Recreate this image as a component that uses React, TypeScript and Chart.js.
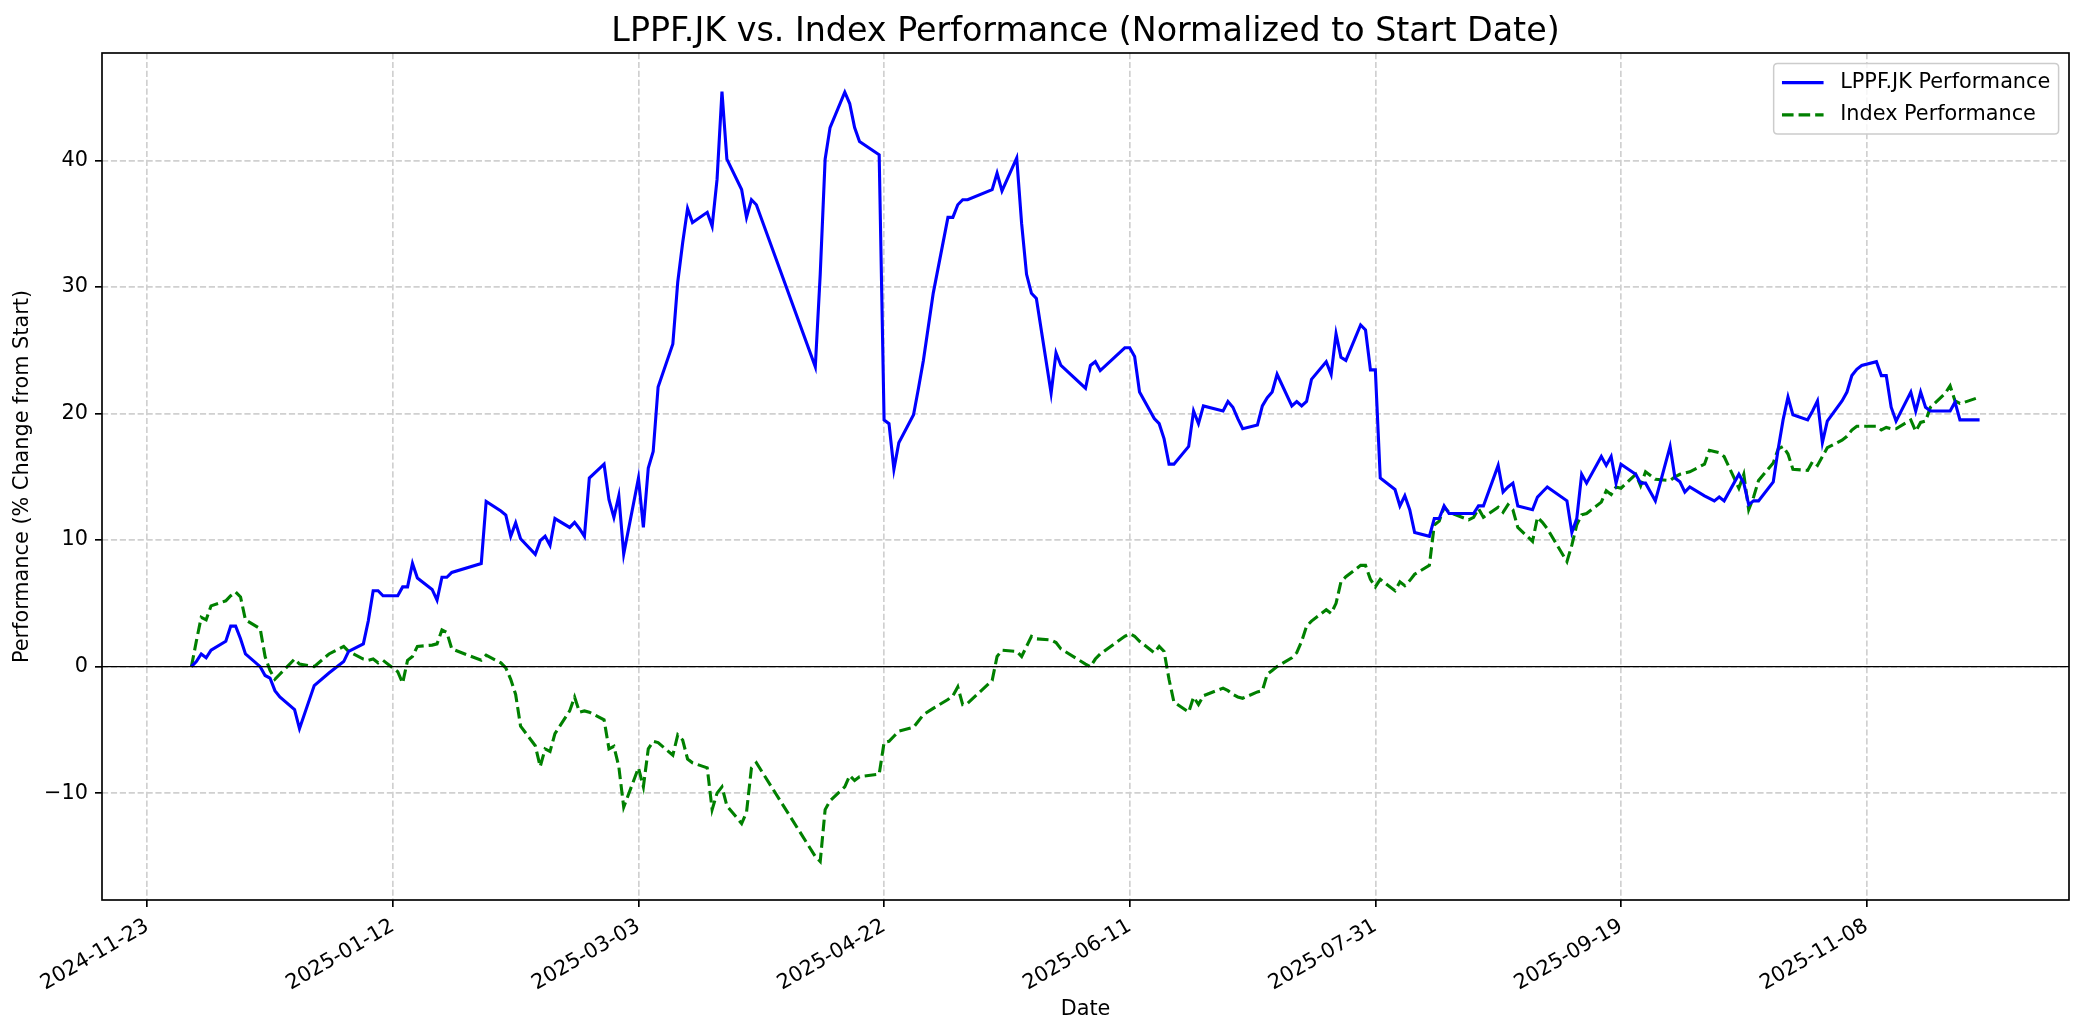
import React, { useEffect, useRef } from "react";
import { Chart, registerables } from "chart.js";

Chart.register(...registerables);

// ---------------- data ----------------
const tradingDates: string[] = [
  "2024-12-02","2024-12-03","2024-12-04","2024-12-05","2024-12-06","2024-12-09","2024-12-10","2024-12-11","2024-12-12","2024-12-13","2024-12-16","2024-12-17","2024-12-18","2024-12-19","2024-12-20","2024-12-23","2024-12-24","2024-12-27","2024-12-30",
  "2025-01-02","2025-01-03","2025-01-06","2025-01-07","2025-01-08","2025-01-09","2025-01-10","2025-01-13","2025-01-14","2025-01-15","2025-01-16","2025-01-17","2025-01-20","2025-01-21","2025-01-22","2025-01-23","2025-01-24","2025-01-30","2025-01-31",
  "2025-02-03","2025-02-04","2025-02-05","2025-02-06","2025-02-07","2025-02-10","2025-02-11","2025-02-12","2025-02-13","2025-02-14","2025-02-17","2025-02-18","2025-02-19","2025-02-20","2025-02-21","2025-02-24","2025-02-25","2025-02-26","2025-02-27","2025-02-28",
  "2025-03-03","2025-03-04","2025-03-05","2025-03-06","2025-03-07","2025-03-10","2025-03-11","2025-03-12","2025-03-13","2025-03-14","2025-03-17","2025-03-18","2025-03-19","2025-03-20","2025-03-21","2025-03-24","2025-03-25","2025-03-26","2025-03-27",
  "2025-04-08","2025-04-09","2025-04-10","2025-04-11","2025-04-14","2025-04-15","2025-04-16","2025-04-17","2025-04-21","2025-04-22","2025-04-23","2025-04-24","2025-04-25","2025-04-28","2025-04-29","2025-04-30",
  "2025-05-02","2025-05-05","2025-05-06","2025-05-07","2025-05-08","2025-05-09","2025-05-14","2025-05-15","2025-05-16","2025-05-19","2025-05-20","2025-05-21","2025-05-22","2025-05-23","2025-05-26","2025-05-27","2025-05-28",
  "2025-06-02","2025-06-03","2025-06-04","2025-06-05","2025-06-10","2025-06-11","2025-06-12","2025-06-13","2025-06-16","2025-06-17","2025-06-18","2025-06-19","2025-06-20","2025-06-23","2025-06-24","2025-06-25","2025-06-26","2025-06-30",
  "2025-07-01","2025-07-02","2025-07-03","2025-07-04","2025-07-07","2025-07-08","2025-07-09","2025-07-10","2025-07-11","2025-07-14","2025-07-15","2025-07-16","2025-07-17","2025-07-18","2025-07-21","2025-07-22","2025-07-23","2025-07-24","2025-07-25","2025-07-28","2025-07-29","2025-07-30","2025-07-31",
  "2025-08-01","2025-08-04","2025-08-05","2025-08-06","2025-08-07","2025-08-08","2025-08-11","2025-08-12","2025-08-13","2025-08-14","2025-08-15","2025-08-19","2025-08-20","2025-08-21","2025-08-22","2025-08-25","2025-08-26","2025-08-27","2025-08-28","2025-08-29",
  "2025-09-01","2025-09-02","2025-09-03","2025-09-04","2025-09-08","2025-09-09","2025-09-10","2025-09-11","2025-09-12","2025-09-15","2025-09-16","2025-09-17","2025-09-18","2025-09-19","2025-09-22","2025-09-23","2025-09-24","2025-09-25","2025-09-26","2025-09-29","2025-09-30",
  "2025-10-01","2025-10-02","2025-10-03","2025-10-06","2025-10-07","2025-10-08","2025-10-09","2025-10-10","2025-10-13","2025-10-14","2025-10-15","2025-10-16","2025-10-17","2025-10-20","2025-10-21","2025-10-22","2025-10-23","2025-10-24","2025-10-27","2025-10-28","2025-10-29","2025-10-30","2025-10-31",
  "2025-11-03","2025-11-04","2025-11-05","2025-11-06","2025-11-07","2025-11-10","2025-11-11","2025-11-12","2025-11-13","2025-11-14","2025-11-17","2025-11-18","2025-11-19","2025-11-20","2025-11-21","2025-11-24","2025-11-25","2025-11-26","2025-11-27","2025-11-28",
  "2025-12-01",
];

const lppfPerf: number[] = [
  0.0, 0.4, 1.0, 0.7, 1.3, 2.0, 3.2, 3.2, 2.2, 1.0, 0.0, -0.7, -0.9, -1.9, -2.4, -3.4, -4.9, -1.5, -0.5,
  0.4, 1.2, 1.8, 3.6, 6.0, 6.0, 5.6, 5.6, 6.3, 6.3, 8.15, 7.0, 6.1, 5.25, 7.06, 7.06, 7.44, 8.15, 13.05,
  12.3, 11.97, 10.3, 11.36, 10.1, 8.87, 9.95, 10.3, 9.58, 11.7, 11.0, 11.4, 10.9, 10.3, 14.9, 16.0, 13.2, 11.8, 13.5, 8.9,
  14.9, 11.0, 15.7, 17.0, 22.1, 25.5, 30.4, 33.5, 36.2, 35.1, 35.9, 34.8, 38.5, 45.45, 40.1, 37.7, 35.5, 36.9, 36.5,
  23.7, 31.0, 40.1, 42.6, 45.4, 44.5, 42.6, 41.5, 40.45, 19.5, 19.2, 15.6, 17.7, 19.9, 22.0, 24.2,
  29.5, 35.5, 35.5, 36.5, 36.9, 36.9, 37.7, 39.0, 37.6, 40.2, 35.0, 31.0, 29.5, 29.1, 21.6, 24.8, 23.8,
  22.0, 23.8, 24.1, 23.4, 25.2, 25.2, 24.5, 21.7, 19.6, 19.2, 18.0, 16.0, 16.0, 17.4, 20.2, 19.2, 20.6, 20.2,
  20.95, 20.5, 19.6, 18.8, 19.1, 20.6, 21.25, 21.7, 23.1, 20.6, 20.95, 20.6, 20.95, 22.7, 24.1, 23.1, 26.3, 24.45, 24.2, 27.0, 26.6, 23.45, 23.45,
  14.9, 14.0, 12.7, 13.5, 12.4, 10.6, 10.3, 11.7, 11.7, 12.7, 12.1, 12.1, 12.1, 12.7, 12.7, 15.9, 13.8, 14.2, 14.5, 12.7,
  12.4, 13.4, 13.8, 14.2, 13.1, 10.6, 11.7, 15.2, 14.5, 16.6, 15.9, 16.6, 14.5, 16.0, 15.2, 14.5, 14.5, 13.8, 13.1, 17.4, 14.9,
  14.6, 13.8, 14.2, 13.5, 13.3, 13.1, 13.4, 13.1, 15.2, 14.5, 12.8, 13.1, 13.1, 14.6, 17.2, 19.5, 21.3, 19.9, 19.5, 20.2, 21.0, 17.7, 19.4,
  21.0, 21.7, 23.0, 23.5, 23.8, 24.1, 23.0, 23.0, 20.5, 19.4, 21.7, 20.2, 21.7, 20.5, 20.2, 20.2, 20.2, 20.9, 19.5, 19.5,
  19.5,
];

const indexPerf: number[] = [
  0.0, 2.0, 3.9, 3.7, 4.8, 5.2, 5.6, 5.9, 5.5, 3.7, 3.0, 0.8, -0.3, -1.0, -0.6, 0.6, 0.2, 0.0, 1.0,
  1.6, 1.2, 0.6, 0.5, 0.6, 0.3, 0.5, -0.4, -1.3, 0.5, 0.8, 1.6, 1.7, 1.8, 2.9, 2.7, 1.4, 0.5, 0.9,
  0.3, -0.1, -1.0, -2.2, -4.7, -6.25, -7.9, -6.5, -6.7, -5.3, -3.5, -2.4, -3.6, -3.5, -3.6, -4.2, -6.5, -6.3, -7.9, -11.1,
  -8.0, -9.5, -6.5, -5.9, -6.0, -7.0, -5.4, -5.8, -7.3, -7.6, -8.0, -11.3, -10.0, -9.5, -11.0, -12.4, -11.5, -8.0, -7.6,
  -15.0, -15.4, -11.3, -10.6, -9.5, -8.6, -9.0, -8.7, -8.5, -6.0, -5.9, -5.5, -5.1, -4.8, -4.3, -3.8,
  -3.3, -2.6, -2.3, -1.6, -3.0, -2.9, -1.1, 0.8, 1.3, 1.2, 0.8, 1.6, 2.4, 2.2, 2.1, 1.9, 1.4,
  0.2, 0.0, 0.6, 1.0, 2.4, 2.6, 2.4, 2.0, 1.1, 1.6, 1.2, -1.0, -2.8, -3.6, -2.4, -3.0, -2.3, -1.7,
  -1.9, -2.2, -2.4, -2.5, -2.0, -1.9, -0.6, -0.3, 0.0, 0.7, 1.1, 2.0, 3.2, 3.6, 4.5, 4.2, 5.0, 6.7, 7.1, 8.0, 8.0, 6.9, 6.3,
  6.9, 6.0, 6.7, 6.4, 6.8, 7.3, 8.0, 11.2, 11.5, 12.6, 12.2, 11.6, 11.8, 12.5, 11.8, 12.6, 12.2, 12.8, 12.4, 11.0,
  9.9, 11.8, 11.4, 10.9, 8.3, 9.6, 11.2, 12.0, 12.1, 13.0, 13.9, 13.6, 14.2, 14.1, 15.2, 14.3, 15.4, 15.1, 14.8, 14.7, 15.0,
  15.2, 15.3, 15.4, 16.0, 17.1, 17.0, 16.9, 16.6, 14.1, 15.2, 12.4, 13.4, 14.7, 16.1, 17.2, 17.4, 16.8, 15.6, 15.5, 16.2, 15.9, 16.6, 17.3,
  17.9, 18.2, 18.7, 19.0, 19.0, 19.0, 18.7, 18.9, 18.8, 18.8, 19.5, 18.6, 19.3, 19.4, 20.5, 21.6, 22.2, 21.0, 20.8, 20.9,
  21.3,
];

const seriesLabels = ["LPPF.JK Performance", "Index Performance"];
const xTickDates = ["2024-11-23", "2025-01-12", "2025-03-03", "2025-04-22", "2025-06-11", "2025-07-31", "2025-09-19", "2025-11-08"];
const yTickValues = [-10, 0, 10, 20, 30, 40];
const titleText = "LPPF.JK vs. Index Performance (Normalized to Start Date)";
const xAxisLabel = "Date";
const yAxisLabel = "Performance (% Change from Start)";

// ---------------- layout / style ----------------
const W = 2084;
const H = 1035;
const PLOT = { left: 102, right: 2069, top: 53, bottom: 900 };
const FONT = "'DejaVu Sans', sans-serif";
const TICK_PX = 20.8;
const LABEL_PX = 20.8;
const TITLE_PX = 33.3;
const LEGEND_PX = 20.8;
const GRID = "#d0d0d0";
const LINE_W = 3.1;

const DAY = 86400000;
const toDay = (s: string) => Date.parse(s + "T00:00:00Z") / DAY;
const fromDay = (d: number) => new Date(Math.round(d) * DAY).toISOString().slice(0, 10);
const fmtY = (v: number) => (v < 0 ? "\u2212" + Math.abs(v) : String(v));

const decorPlugin = {
  id: "decor",
  afterDatasetsDraw(chart: any) {
    const { ctx, chartArea: a, scales } = chart;
    const y0 = scales.y.getPixelForValue(0);
    ctx.save();
    ctx.strokeStyle = "#000";
    ctx.lineWidth = 1.2;
    ctx.beginPath();
    ctx.moveTo(a.left, y0);
    ctx.lineTo(a.right, y0);
    ctx.stroke();
    ctx.restore();
  },
  afterDraw(chart: any) {
    const { ctx, chartArea: a } = chart;
    ctx.save();
    ctx.strokeStyle = "#000";
    ctx.lineWidth = 1.67;
    ctx.strokeRect(a.left, a.top, a.right - a.left, a.bottom - a.top);

    ctx.fillStyle = "#000";
    ctx.font = `${TITLE_PX}px ${FONT}`;
    ctx.textAlign = "center";
    ctx.textBaseline = "alphabetic";
    ctx.fillText(titleText, (a.left + a.right) / 2, a.top - 12.5);

    ctx.font = `${LABEL_PX}px ${FONT}`;
    ctx.textBaseline = "middle";
    ctx.fillText(xAxisLabel, (a.left + a.right) / 2, 1010);
    ctx.save();
    ctx.translate(23, (a.top + a.bottom) / 2);
    ctx.rotate(-Math.PI / 2);
    ctx.fillText(yAxisLabel, 0, 0);
    ctx.restore();

    const fs = LEGEND_PX;
    ctx.font = `${fs}px ${FONT}`;
    const ds = chart.data.datasets;
    const textW = Math.max(...ds.map((d: any) => ctx.measureText(d.label).width));
    const pad = 0.4 * fs;
    const handleLen = 2.0 * fs;
    const handleGap = 0.8 * fs;
    const rowH = 1.05 * fs;
    const rowGap = 0.5 * fs;
    const boxW = pad * 2 + handleLen + handleGap + textW;
    const boxH = pad * 2 + rowH * ds.length + rowGap * (ds.length - 1);
    const bx = a.right - 0.5 * fs - boxW;
    const by = a.top + 0.5 * fs;
    const r = 4;
    ctx.beginPath();
    ctx.moveTo(bx + r, by);
    ctx.lineTo(bx + boxW - r, by);
    ctx.quadraticCurveTo(bx + boxW, by, bx + boxW, by + r);
    ctx.lineTo(bx + boxW, by + boxH - r);
    ctx.quadraticCurveTo(bx + boxW, by + boxH, bx + boxW - r, by + boxH);
    ctx.lineTo(bx + r, by + boxH);
    ctx.quadraticCurveTo(bx, by + boxH, bx, by + boxH - r);
    ctx.lineTo(bx, by + r);
    ctx.quadraticCurveTo(bx, by, bx + r, by);
    ctx.closePath();
    ctx.fillStyle = "rgba(255,255,255,0.8)";
    ctx.fill();
    ctx.strokeStyle = "#cccccc";
    ctx.lineWidth = 1.5;
    ctx.stroke();

    ds.forEach((d: any, i: number) => {
      const cy = by + pad + i * (rowH + rowGap) + rowH / 2;
      ctx.strokeStyle = d.borderColor;
      ctx.lineWidth = d.borderWidth;
      ctx.setLineDash(d.borderDash || []);
      ctx.beginPath();
      ctx.moveTo(bx + pad, cy);
      ctx.lineTo(bx + pad + handleLen, cy);
      ctx.stroke();
      ctx.setLineDash([]);
      ctx.fillStyle = "#000";
      ctx.textAlign = "left";
      ctx.textBaseline = "middle";
      ctx.fillText(d.label, bx + pad + handleLen + handleGap, cy);
    });
    ctx.restore();
  },
};

export default function App() {
  const ref = useRef<HTMLCanvasElement>(null);

  useEffect(() => {
    const canvas = ref.current;
    if (!canvas) return;
    const xs = tradingDates.map(toDay);
    const xMinD = Math.min(...xs);
    const xMaxD = Math.max(...xs);
    const xPad = (xMaxD - xMinD) * 0.05;
    const allY = [...lppfPerf, ...indexPerf];
    const yMinD = Math.min(...allY);
    const yMaxD = Math.max(...allY);
    const yPad = (yMaxD - yMinD) * 0.05;

    const chart = new Chart(canvas, {
      type: "line",
      data: {
        datasets: [
          {
            label: seriesLabels[0],
            data: xs.map((x, i) => ({ x, y: lppfPerf[i] })),
            borderColor: "#0000ff",
            borderWidth: LINE_W,
            pointRadius: 0,
            fill: false,
            tension: 0,
          },
          {
            label: seriesLabels[1],
            data: xs.map((x, i) => ({ x, y: indexPerf[i] })),
            borderColor: "#008000",
            borderWidth: LINE_W,
            borderDash: [11.6, 5],
            pointRadius: 0,
            fill: false,
            tension: 0,
          },
        ],
      },
      options: {
        responsive: false,
        animation: false,
        devicePixelRatio: 1,
        layout: { padding: { left: 0, right: W - PLOT.right, top: PLOT.top, bottom: 0 } },
        plugins: {
          legend: { display: false },
          title: { display: false },
          tooltip: { enabled: false },
        },
        scales: {
          x: {
            type: "linear",
            min: xMinD - xPad,
            max: xMaxD + xPad,
            afterFit: (s: any) => {
              s.height = H - PLOT.bottom;
            },
            afterBuildTicks: (s: any) => {
              s.ticks = xTickDates.map((d) => ({ value: toDay(d) }));
            },
            ticks: {
              callback: (v: any) => fromDay(Number(v)),
              minRotation: 30,
              maxRotation: 30,
              autoSkip: false,
              color: "#000",
              padding: 7,
              font: { family: FONT, size: TICK_PX },
            },
            grid: {
              color: GRID,
              lineWidth: 1.67,
              tickColor: "#000",
              tickLength: 7,
              tickWidth: 1.67,
            },
            border: { display: false, dash: [6.2, 2.7] },
          },
          y: {
            type: "linear",
            min: yMinD - yPad,
            max: yMaxD + yPad,
            afterFit: (s: any) => {
              s.width = PLOT.left;
            },
            afterBuildTicks: (s: any) => {
              s.ticks = yTickValues.map((v) => ({ value: v }));
            },
            ticks: {
              callback: (v: any) => fmtY(Number(v)),
              color: "#000",
              padding: 7,
              font: { family: FONT, size: TICK_PX },
            },
            grid: {
              color: GRID,
              lineWidth: 1.67,
              tickColor: "#000",
              tickLength: 7,
              tickWidth: 1.67,
            },
            border: { display: false, dash: [6.2, 2.7] },
          },
        },
      },
      plugins: [decorPlugin],
    });
    return () => chart.destroy();
  }, []);

  return (
    <div style={{ position: "fixed", left: 0, top: 0, width: W, height: H, background: "#fff" }}>
      <canvas ref={ref} width={W} height={H} style={{ display: "block" }} />
    </div>
  );
}
